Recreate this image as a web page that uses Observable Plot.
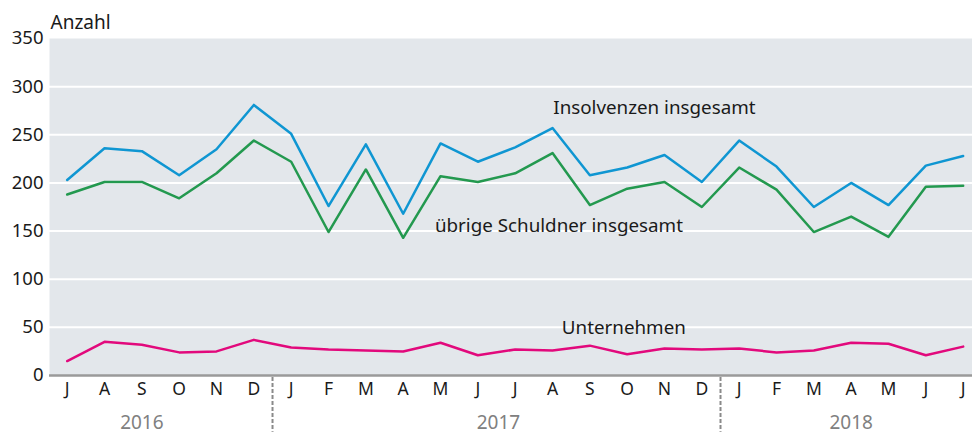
<!DOCTYPE html>
<html>
<head>
<meta charset="utf-8">
<script src="https://cdn.jsdelivr.net/npm/d3@7"></script>
<script src="https://cdn.jsdelivr.net/npm/@observablehq/plot@0.6"></script>
<style>
  html, body { margin: 0; padding: 0; background: #fff; }
  #chart svg { display: block; }
</style>
</head>
<body>
<div id="chart"></div>
<script>
const months = ["J","A","S","O","N","D","J","F","M","A","M","J","J","A","S","O","N","D","J","F","M","A","M","J","J"];
const yearOfMonth = [2016,2016,2016,2016,2016,2016,2017,2017,2017,2017,2017,2017,2017,2017,2017,2017,2017,2017,2018,2018,2018,2018,2018,2018,2018];
const insolvenzen = [203,236,233,208,235,281,251,176,240,168,241,222,237,257,208,216,229,201,244,217,175,200,177,218,228];
const uebrige = [188,201,201,184,210,244,222,149,214,143,207,201,210,231,177,194,201,175,216,193,149,165,144,196,197];
const unternehmen = [15,35,32,24,25,37,29,27,26,25,34,21,27,26,31,22,28,27,28,24,26,34,33,21,30];
const yTicks = [0,50,100,150,200,250,300,350];
const yearLabels = ["2016","2017","2018"];
const seriesNames = ["Insolvenzen insgesamt","übrige Schuldner insgesamt","Unternehmen"];
const colors = ["#0f96d2","#23994f","#e2097c"];

const FONT = "'Noto Sans', 'Open Sans', sans-serif";

const idx = months.map((_, i) => i);
const rows = [];
[insolvenzen, uebrige, unternehmen].forEach((vals, s) => {
  vals.forEach((v, i) => rows.push({i, v, s: seriesNames[s]}));
});

// year label positions: 2016 placed over S, others centred on their months
const yearPos = [2, 11.55, 21];
const yearData = yearLabels.map((y, k) => ({y, pos: yearPos[k]}));
// boundaries between years
const seps = [];
for (let i = 1; i < yearOfMonth.length; i++) if (yearOfMonth[i] !== yearOfMonth[i-1]) seps.push(i - 0.5);

const labelData = [
  {t: seriesNames[0], x: 13.02, y: 278, c: colors[0]},
  {t: seriesNames[1], x: 9.85, y: 155.5, c: colors[1]},
  {t: seriesNames[2], x: 13.25, y: 49, c: colors[2]}
];

const chart = Plot.plot({
  width: 972,
  height: 434,
  marginLeft: 49,
  marginRight: 0,
  marginTop: 38,
  marginBottom: 59,
  style: {fontFamily: FONT, fontSize: "17px", color: "#1a1a1a", background: "#fff", overflow: "visible"},
  x: {type: "linear", domain: [-0.474, 24.25], axis: null},
  y: {domain: [0, 350], axis: null},
  color: {domain: seriesNames, range: colors},
  marks: [
    Plot.frame({fill: "#e3e7eb", stroke: null}),
    Plot.gridY([50,100,150,200,250,300], {stroke: "#fff", strokeOpacity: 1, strokeWidth: 2}),
    Plot.ruleY([0], {stroke: "#9a9a9a", strokeWidth: 2.5}),
    Plot.axisY(yTicks, {tickSize: 0, tickPadding: 6, fontSize: 18.5, fill: "#1a1a1a", label: null}),
    Plot.axisX(idx, {tickSize: 0, tickPadding: 7, fontSize: 17.5, fill: "#1a1a1a", tickFormat: i => months[i], label: null}),
    Plot.ruleX(seps, {y1: -2, y2: -59, stroke: "#8a8a8a", strokeWidth: 2, strokeDasharray: "4,2", clip: false}),
    Plot.text(yearData, {x: "pos", text: "y", frameAnchor: "bottom", lineAnchor: "middle", dy: 47, fontSize: 19, fill: "#808080"}),
    Plot.line(rows, {x: "i", y: "v", stroke: "s", strokeWidth: 2.5, z: "s"}),
    Plot.text(labelData, {x: "x", y: "y", text: "t", textAnchor: "start", fontSize: 18.8, fill: "#1a1a1a"}),
    Plot.text(["Anzahl"], {frameAnchor: "top-left", lineAnchor: "middle", dx: 1, dy: -16, textAnchor: "start", fontSize: 19, fill: "#1a1a1a"})
  ]
});
document.getElementById("chart").appendChild(chart);
</script>
</body>
</html>
